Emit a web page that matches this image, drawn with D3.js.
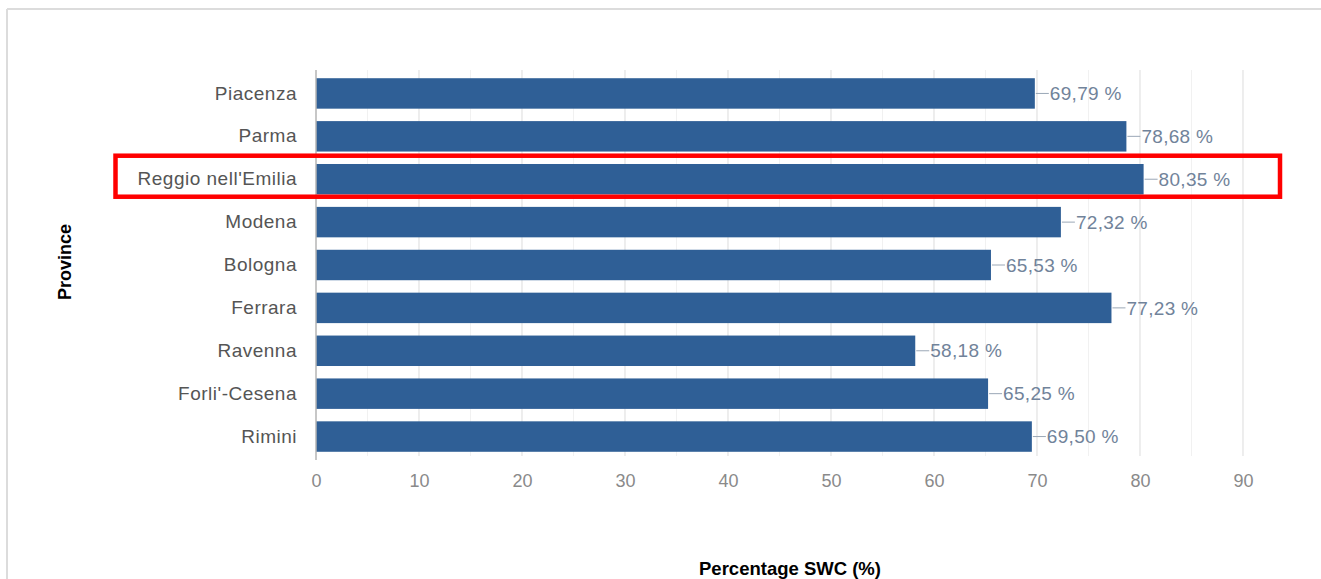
<!DOCTYPE html>
<html>
<head>
<meta charset="utf-8">
<script src="https://cdn.jsdelivr.net/npm/d3@7"></script>
<style>
  html, body { margin: 0; padding: 0; background: #fff; }
  svg { display: block; font-family: "Liberation Sans", Arial, sans-serif; }
</style>
</head>
<body>
<svg id="chart" width="1321" height="579"></svg>
<script>
// Soil water content by province (Emilia-Romagna)
const provinces = ["Piacenza", "Parma", "Reggio nell'Emilia", "Modena", "Bologna",
                   "Ferrara", "Ravenna", "Forli'-Cesena", "Rimini"];
const swcValues = [69.79, 78.68, 80.35, 72.32, 65.53, 77.23, 58.18, 65.25, 69.50];
const xTicks = [0, 10, 20, 30, 40, 50, 60, 70, 80, 90];
const minorTicks = [5, 15, 25, 35, 45, 55, 65, 75, 85];
const highlighted = "Reggio nell'Emilia";

const svg = d3.select("#chart");
const W = 1321, H = 579;

// panel frame (top and left edges)
svg.append("line").attr("x1", 7).attr("x2", W).attr("y1", 9).attr("y2", 9)
  .attr("stroke", "#dcdcdc").attr("stroke-width", 2);
svg.append("line").attr("x1", 7).attr("x2", 7).attr("y1", 9).attr("y2", H)
  .attr("stroke", "#dcdcdc").attr("stroke-width", 2);

const x = d3.scaleLinear().domain([0, 90]).range([316, 1243]);
const y = d3.scaleBand().domain(provinces).range([72, 458]).paddingInner(0.29).paddingOuter(0.145);

const gridTop = 70, gridBottom = 456;

// minor gridlines
svg.append("g").selectAll("line").data(minorTicks).join("line")
  .attr("x1", d => x(d)).attr("x2", d => x(d))
  .attr("y1", gridTop).attr("y2", gridBottom)
  .attr("stroke", "#f1f1f1").attr("stroke-width", 1);

// major gridlines
svg.append("g").selectAll("line").data(xTicks.slice(1)).join("line")
  .attr("x1", d => x(d)).attr("x2", d => x(d))
  .attr("y1", gridTop).attr("y2", gridBottom)
  .attr("stroke", "#e2e2e2").attr("stroke-width", 1.2);

// bars
svg.append("g").selectAll("rect").data(provinces).join("rect")
  .attr("x", x(0))
  .attr("y", d => y(d))
  .attr("width", (d, i) => x(swcValues[i]) - x(0))
  .attr("height", y.bandwidth())
  .attr("fill", "#2f5f96");

// value labels with leader lines
const lbl = svg.append("g").selectAll("g").data(provinces).join("g")
  .attr("transform", (d, i) => `translate(${x(swcValues[i])},${y(d) + y.bandwidth() / 2})`);
lbl.append("line").attr("x1", 1).attr("x2", 14).attr("y1", 0).attr("y2", 0)
  .attr("stroke", "#9aa7b6").attr("stroke-width", 1);
lbl.append("text").attr("x", 15).attr("dy", "0.35em")
  .attr("font-size", 19).attr("letter-spacing", 0.3).attr("fill", "#71839a")
  .text((d, i) => swcValues[i].toFixed(2).replace(".", ",") + " %");

// category axis
const yAxis = d3.axisLeft(y).tickSize(0).tickPadding(19);
const gy = svg.append("g").attr("transform", `translate(${x(0)},0)`).call(yAxis);
gy.select(".domain").remove();
gy.selectAll("text").attr("font-size", 19).attr("letter-spacing", 0.5).attr("fill", "#555")
  .attr("font-family", "'Liberation Sans', Arial, sans-serif");

// zero baseline
svg.append("line").attr("x1", x(0)).attr("x2", x(0)).attr("y1", gridTop).attr("y2", 460)
  .attr("stroke", "#b5b5b5").attr("stroke-width", 1.5);

// value axis
const xAxis = d3.axisBottom(x).tickValues(xTicks).tickSize(0).tickPadding(18);
const gx = svg.append("g").attr("transform", `translate(0,${gridBottom})`).call(xAxis);
gx.select(".domain").remove();
gx.selectAll("text").attr("font-size", 18).attr("fill", "#8a8a8a")
  .attr("font-family", "'Liberation Sans', Arial, sans-serif");

// axis titles
svg.append("text").attr("x", 790).attr("y", 575).attr("text-anchor", "middle")
  .attr("font-size", 18.5).attr("font-weight", "bold").attr("fill", "#000")
  .text("Percentage SWC (%)");
svg.append("text").attr("transform", "translate(71,262) rotate(-90)").attr("text-anchor", "middle")
  .attr("font-size", 18).attr("font-weight", "bold").attr("fill", "#000")
  .text("Province");

// highlight box around the selected province
const hc = y(highlighted) + y.bandwidth() / 2;
svg.append("rect")
  .attr("x", 115.5).attr("y", hc - 23.5)
  .attr("width", 1280 - 115.5).attr("height", 41)
  .attr("fill", "none").attr("stroke", "#ff0000").attr("stroke-width", 4.5);
</script>
</body>
</html>
